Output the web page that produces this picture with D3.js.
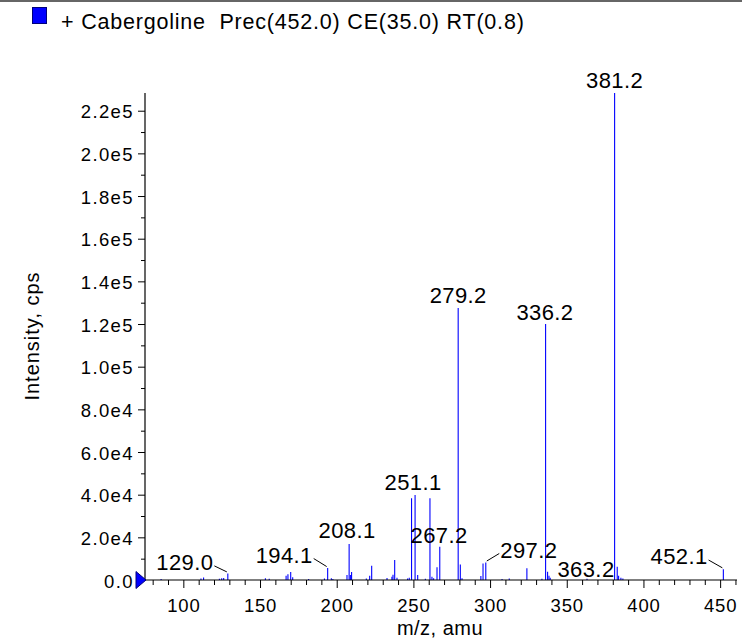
<!DOCTYPE html>
<html>
<head>
<meta charset="utf-8">
<script src="https://cdn.jsdelivr.net/npm/d3@7/dist/d3.min.js"></script>
<style>
  html, body { margin: 0; padding: 0; background: #fff; }
  svg { display: block; }
  text { font-family: "Liberation Sans", Arial, Helvetica, sans-serif; fill: #000; }
</style>
</head>
<body>
<svg id="chart" width="742" height="639"></svg>
<script>
// ---------------- data ----------------
const legendText = "+ Cabergoline  Prec(452.0) CE(35.0) RT(0.8)";
const xTitle = "m/z, amu";
const yTitle = "Intensity, cps";

const peakMz = [
  85.5, 111.5, 113.2, 123.5, 125.0, 126.3, 129.0, 153.5, 156.0,
  167.0, 168.2, 170.0, 171.3, 181.7, 192.0, 194.1, 196.5,
  197.5, 206.7, 208.1, 208.9, 209.7, 219.3, 221.5, 222.8,
  232.8, 236.0, 236.7, 237.8, 239.3, 246.2, 247.3, 248.8, 251.1, 252.8,
  257.8, 260.8, 262.1, 263.2, 265.4, 267.2, 279.2, 280.6, 281.7,
  294.0, 295.4, 297.2, 307.8, 312.5, 324.0, 333.8, 336.2, 337.5, 338.4, 339.2,
  363.2, 381.2, 382.9, 383.8, 385.3, 386.6, 452.1
];
const peakIntensity = [
  500, 700, 1200, 600, 800, 900, 3100, 800, 600,
  2000, 2700, 3700, 1300, 500, 700, 5600, 800,
  500, 2300, 16900, 2300, 3700, 700, 2000, 6700,
  900, 1500, 2500, 9400, 1000, 700, 1100, 38300, 39800, 2300,
  600, 38300, 1500, 800, 6000, 15600, 127500, 7300, 800,
  1900, 7700, 8200, 500, 700, 5500, 600, 120000, 3900, 2000, 1000,
  600, 228300, 6200, 2000, 1000, 700, 5000
];

const labelText = ["129.0", "194.1", "208.1", "251.1", "267.2", "279.2", "297.2", "336.2", "363.2", "381.2", "452.1"];
const labelMz   = [129.0, 194.1, 208.1, 251.1, 267.2, 279.2, 297.2, 336.2, 363.2, 381.2, 452.1];

const xTickValues = [100, 150, 200, 250, 300, 350, 400, 450];
const xTickLabels = ["100", "150", "200", "250", "300", "350", "400", "450"];
const yTickValues = [0, 20000, 40000, 60000, 80000, 100000, 120000, 140000, 160000, 180000, 200000, 220000];
const yTickLabels = ["0.0", "2.0e4", "4.0e4", "6.0e4", "8.0e4", "1.0e5", "1.2e5", "1.4e5", "1.6e5", "1.8e5", "2.0e5", "2.2e5"];

// label layout (pixel offsets from the peak top): dx, dy
const labelLayout = {
  "129.0": [-43, -3.5], "194.1": [-43.5, -5.5], "208.1": [-2, -5.5], "251.1": [-2, -5.5],
  "267.2": [-0.7, -4], "279.2": [0, -4.7], "297.2": [43, -5], "336.2": [-0.6, -4],
  "363.2": [-1, -2], "381.2": [0, -5], "452.1": [-44.3, -5.3]
};

// ---------------- drawing ----------------
const svg = d3.select("#chart");
const W = 742, H = 639;
const blue = "#0000ff";

svg.append("rect").attr("width", W).attr("height", H).attr("fill", "#fff");
// top frame line
svg.append("line").attr("x1", 0).attr("x2", W).attr("y1", 1).attr("y2", 1)
  .attr("stroke", "#666").attr("stroke-width", 2);

const x = d3.scaleLinear().domain([75, 461]).range([145, 737]);
const y = d3.scaleLinear().domain([0, 228300]).range([580, 93]);

// Legend
svg.append("rect").attr("x", 32.5).attr("y", 7.5).attr("width", 14).attr("height", 16)
  .attr("fill", blue).attr("stroke", "#00007a").attr("stroke-width", 1);
svg.append("text").attr("x", 61).attr("y", 29)
  .style("font-size", "21.5px").style("letter-spacing", "0.8px").style("white-space", "pre")
  .text(legendText);

// Peaks
const peaks = peakMz.map((m, i) => ({ mz: m, v: peakIntensity[i] }));
svg.append("g").selectAll("line").data(peaks).join("line")
  .attr("x1", d => x(d.mz)).attr("x2", d => x(d.mz))
  .attr("y1", y(0)).attr("y2", d => y(d.v))
  .attr("stroke", blue).attr("stroke-width", 1.1);

// Y axis
const yAxisG = svg.append("g").attr("transform", "translate(145,0)");
yAxisG.call(d3.axisLeft(y).tickValues(d3.range(10000, 230000, 20000)).tickSize(4).tickFormat(""));
yAxisG.call(g => g.select(".domain").remove());
const yMajor = svg.append("g").attr("transform", "translate(145,0)")
  .call(d3.axisLeft(y).tickValues(yTickValues).tickSize(7).tickPadding(12)
    .tickFormat((d, i) => yTickLabels[i]));
yMajor.select(".domain").remove();
yMajor.selectAll("text").style("font-size", "18.5px").style("letter-spacing", "1.4px")
  .attr("dy", null).attr("y", 7).attr("x", -11);
svg.append("line").attr("x1", 145).attr("x2", 145).attr("y1", 93).attr("y2", 580.5)
  .attr("stroke", "#000").attr("stroke-width", 1.2);

// X axis
const xMinor = svg.append("g").attr("transform", "translate(0,580)")
  .call(d3.axisBottom(x).tickValues(d3.range(80, 461, 10).filter(v => v % 50 !== 0)).tickSize(5).tickFormat(""));
xMinor.select(".domain").remove();
const xMajor = svg.append("g").attr("transform", "translate(0,580)")
  .call(d3.axisBottom(x).tickValues(xTickValues).tickSize(8).tickPadding(6)
    .tickFormat((d, i) => xTickLabels[i]));
xMajor.select(".domain").remove();
xMajor.selectAll("text").style("font-size", "18.5px").style("letter-spacing", "0.8px")
  .attr("dy", null).attr("y", 32);
svg.append("line").attr("x1", 144.5).attr("x2", 737).attr("y1", 580).attr("y2", 580)
  .attr("stroke", "#000").attr("stroke-width", 1.2);
svg.selectAll(".tick line").attr("stroke", "#000").attr("stroke-width", 1);

// Origin marker
svg.append("path")
  .attr("d", d3.line()([[x(75) - 9, y(0) - 8.5], [x(75) + 1, y(0)], [x(75) - 9, y(0) + 8.5]]) + "Z")
  .attr("fill", blue).attr("stroke", "#00007a").attr("stroke-width", 1);

// Axis titles
svg.append("text").attr("transform", "translate(39,336) rotate(-90)")
  .attr("text-anchor", "middle").style("font-size", "20px").style("letter-spacing", "1px")
  .text(yTitle);
svg.append("text").attr("x", 440).attr("y", 635).attr("text-anchor", "middle")
  .style("font-size", "20px").style("letter-spacing", "0.5px").text(xTitle);

// Peak labels
const peakByMz = m => peaks.find(p => Math.abs(p.mz - m) < 0.01);
const lg = svg.append("g");
labelText.forEach((t, i) => {
  const p = peakByMz(labelMz[i]);
  const px = x(p.mz), py = y(p.v);
  const [dx, dy] = labelLayout[t];
  const tx = px + dx, ty = py + dy;
  const txt = lg.append("text").attr("x", tx).attr("y", ty).attr("text-anchor", "middle")
    .style("font-size", "22px").style("letter-spacing", "0.4px").text(t);
  if (Math.abs(dx) > 10) {
    const bb = txt.node().getBBox();
    if (dx < 0) {
      lg.append("line").attr("x1", bb.x + bb.width + 1).attr("y1", ty - 4)
        .attr("x2", px - 1).attr("y2", py - 1.5).attr("stroke", "#000").attr("stroke-width", 1);
    } else {
      lg.append("line").attr("x1", px + 1).attr("y1", py - 1.5)
        .attr("x2", bb.x - 1).attr("y2", ty - 4).attr("stroke", "#000").attr("stroke-width", 1);
    }
  }
});
</script>
</body>
</html>
